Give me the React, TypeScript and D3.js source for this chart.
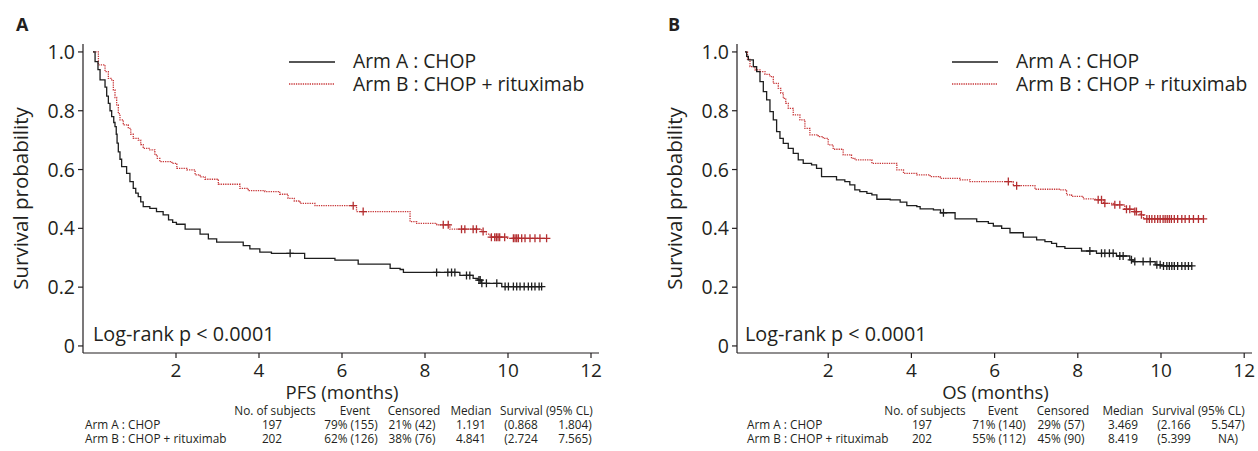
import React from 'react';
import * as d3 from 'd3';

type Pt = [number, number];

// ---- Data (time in months, survival probability) ----
const pfsArmA: Pt[] = [
  [0, 1.0], [0.05, 0.967], [0.12, 0.94], [0.17, 0.905], [0.29, 0.88], [0.33, 0.85], [0.37, 0.825], [0.41, 0.8],
  [0.45, 0.78], [0.5, 0.76], [0.53, 0.746], [0.56, 0.72], [0.58, 0.69], [0.61, 0.66], [0.65, 0.635], [0.69, 0.61],
  [0.81, 0.587], [0.89, 0.559], [0.97, 0.536], [1.03, 0.52], [1.09, 0.508], [1.15, 0.49], [1.21, 0.474], [1.37, 0.468],
  [1.53, 0.457], [1.69, 0.446], [1.82, 0.429], [1.92, 0.42], [2.01, 0.414], [2.22, 0.397], [2.58, 0.38], [2.78, 0.364],
  [2.98, 0.353], [3.62, 0.341], [3.78, 0.33], [4.02, 0.319], [4.3, 0.315], [5.1, 0.298], [5.83, 0.292], [6.39, 0.278],
  [7.16, 0.264], [7.4, 0.26], [7.48, 0.25], [8.84, 0.24], [9.16, 0.23], [9.28, 0.224], [9.36, 0.213], [9.85, 0.202],
];
const pfsArmACensor: number[] = [
  4.75, 8.28, 8.55, 8.64, 8.72, 9.0, 9.08, 9.3, 9.33, 9.37, 9.48, 9.73,
  9.93, 10.01, 10.13, 10.21, 10.29, 10.39, 10.49, 10.57, 10.65, 10.75, 10.81,
];
const pfsArmB: Pt[] = [
  [0, 1.0], [0.13, 0.956], [0.29, 0.933], [0.37, 0.91], [0.45, 0.905], [0.49, 0.871], [0.53, 0.845], [0.57, 0.82],
  [0.61, 0.79], [0.65, 0.769], [0.73, 0.752], [0.85, 0.74], [0.91, 0.72], [0.97, 0.706], [1.09, 0.7], [1.15, 0.685],
  [1.21, 0.672], [1.37, 0.667], [1.49, 0.65], [1.55, 0.638], [1.61, 0.627], [1.9, 0.621], [2.02, 0.604], [2.26, 0.599],
  [2.46, 0.582], [2.58, 0.575], [2.7, 0.567], [3.02, 0.55], [3.54, 0.536], [3.74, 0.528], [4.14, 0.525], [4.5, 0.516],
  [4.7, 0.502], [4.85, 0.493], [4.99, 0.485], [5.35, 0.477], [6.35, 0.457], [7.64, 0.423], [7.8, 0.417], [8.28, 0.412],
  [8.6, 0.397], [9.36, 0.389], [9.48, 0.38], [9.57, 0.37], [9.97, 0.366],
];
const pfsArmBCensor: number[] = [
  6.27, 6.51, 8.44, 8.56, 8.88, 8.96, 9.16, 9.24, 9.4, 9.6, 9.68, 9.72, 9.76, 9.8, 9.92,
  10.13, 10.17, 10.21, 10.25, 10.33, 10.41, 10.53, 10.65, 10.77, 10.93,
];
const osArmA: Pt[] = [
  [0, 1.0], [0.04, 0.985], [0.08, 0.973], [0.2, 0.95], [0.28, 0.933], [0.36, 0.899], [0.44, 0.865], [0.52, 0.837],
  [0.6, 0.797], [0.68, 0.769], [0.76, 0.729], [0.84, 0.706], [0.92, 0.689], [1.04, 0.672], [1.16, 0.655], [1.28, 0.633],
  [1.4, 0.621], [1.6, 0.616], [1.72, 0.604], [1.84, 0.576], [2.2, 0.565], [2.4, 0.559], [2.52, 0.548], [2.64, 0.531],
  [2.76, 0.525], [2.93, 0.519], [3.05, 0.514], [3.17, 0.499], [3.49, 0.497], [3.73, 0.489], [3.89, 0.477], [4.13, 0.474],
  [4.21, 0.466], [4.53, 0.463], [4.7, 0.453], [5.05, 0.432], [5.57, 0.423], [5.85, 0.417], [5.97, 0.408], [6.17, 0.4],
  [6.37, 0.385], [6.69, 0.37], [7.01, 0.361], [7.21, 0.355], [7.37, 0.349], [7.49, 0.338], [7.69, 0.332], [8.09, 0.323],
  [8.45, 0.315], [8.93, 0.306], [9.25, 0.293], [9.33, 0.287], [9.86, 0.276], [10.0, 0.272],
];
const osArmACensor: number[] = [
  4.77, 8.29, 8.57, 8.65, 8.76, 8.85, 9.01, 9.09, 9.29, 9.37, 9.57, 9.74,
  9.9, 9.98, 10.06, 10.14, 10.2, 10.26, 10.32, 10.4, 10.5, 10.58, 10.66, 10.74,
];
const osArmB: Pt[] = [
  [0, 1.0], [0.06, 0.975], [0.12, 0.95], [0.24, 0.939], [0.36, 0.933], [0.48, 0.924], [0.6, 0.916], [0.68, 0.893],
  [0.8, 0.876], [0.86, 0.86], [0.92, 0.842], [0.98, 0.825], [1.04, 0.808], [1.16, 0.786], [1.32, 0.769], [1.44, 0.74],
  [1.56, 0.718], [1.76, 0.712], [1.88, 0.706], [2.0, 0.684], [2.12, 0.669], [2.36, 0.65], [2.56, 0.638], [2.64, 0.633],
  [3.05, 0.621], [3.65, 0.599], [3.81, 0.587], [4.13, 0.582], [4.45, 0.576], [4.69, 0.57], [5.17, 0.565], [5.41, 0.559],
  [6.45, 0.545], [6.97, 0.533], [7.57, 0.531], [7.73, 0.514], [7.85, 0.509], [8.13, 0.5], [8.41, 0.497], [8.62, 0.485],
  [8.86, 0.48], [9.13, 0.465], [9.34, 0.457], [9.5, 0.446], [9.58, 0.432],
];
const osArmBCensor: number[] = [
  6.33, 6.53, 8.49, 8.57, 8.65, 8.89, 9.01, 9.17, 9.25, 9.37, 9.41, 9.53, 9.66, 9.72, 9.78, 9.85, 9.92, 9.98,
  10.05, 10.1, 10.15, 10.2, 10.25, 10.32, 10.4, 10.5, 10.58, 10.68, 10.78, 10.9, 11.02,
];

const yTicks = [0, 0.2, 0.4, 0.6, 0.8, 1.0];
const yTickLabels = ['0', '0.2', '0.4', '0.6', '0.8', '1.0'];
const xTicks = [2, 4, 6, 8, 10, 12];
const armLabels = ['Arm A : CHOP', 'Arm B : CHOP + rituximab'];
const tableHeaders = ['No. of subjects', 'Event', 'Censored', 'Median', 'Survival (95% CL)'];
const pfsTable = [
  ['197', '79% (155)', '21% (42)', '1.191', '(0.868', '1.804)'],
  ['202', '62% (126)', '38% (76)', '4.841', '(2.724', '7.565)'],
];
const osTable = [
  ['197', '71% (140)', '29% (57)', '3.469', '(2.166', '5.547)'],
  ['202', '55% (112)', '45% (90)', '8.419', '(5.399', 'NA)'],
];

const FONT = "'Open Sans', 'Noto Sans', sans-serif";
const TEXT = '#231f20';
const BLACK = '#1e1e1e';
const RED = '#c8383a';
const RED_MARK = '#b32e30';

function survAt(curve: Pt[], t: number): number {
  let s = curve[0][1];
  for (const [ti, si] of curve) {
    if (ti <= t) s = si;
    else break;
  }
  return s;
}

interface PanelProps {
  letter: string;
  letterX: number;
  axisX: number;
  rightX: number;
  t0X: number;
  pxPerMonth: number;
  xLabel: string;
  armA: Pt[];
  armACens: number[];
  armB: Pt[];
  armBCens: number[];
  legendX: number;
  table: string[][];
  rowLabelX: number;
  colX: number[];
  headX: number[];
}

function Panel(p: PanelProps) {
  const axisBottom = 353;
  const axisTop = 44;
  const domLeft = -(p.t0X - p.axisX) / p.pxPerMonth;
  const domRight = (p.rightX - p.t0X) / p.pxPerMonth;
  const x = d3.scaleLinear().domain([domLeft, domRight]).range([p.axisX, p.rightX]);
  const y = d3.scaleLinear().domain([-0.024, 1.027]).range([axisBottom, axisTop]);

  const line = d3
    .line<Pt>()
    .x((d) => x(d[0]))
    .y((d) => y(d[1]))
    .curve(d3.curveStepAfter);

  const extend = (c: Pt[], cens: number[]): Pt[] => {
    const end = Math.max(c[c.length - 1][0], ...cens);
    return [...c, [end, c[c.length - 1][1]]];
  };

  const plus = (cx: number, cy: number, color: string, key: string) => (
    <path key={key} d={`M${cx - 3.8},${cy}H${cx + 3.8}M${cx},${cy - 4}V${cy + 4}`} stroke={color} strokeWidth={1.3} fill="none" />
  );

  const rowY = [429, 443];
  const headY = 415;
  const TFS = 11.8;

  return (
    <g>
      <text x={p.letterX} y={31} fontFamily={FONT} fontWeight="bold" fontSize={18} fill={TEXT}>
        {p.letter}
      </text>
      {/* y axis */}
      <line x1={p.axisX} x2={p.axisX} y1={axisTop} y2={axisBottom} stroke={TEXT} strokeWidth={1.2} />
      {yTicks.map((v, i) => (
        <g key={'y' + i}>
          <line x1={p.axisX - 5} x2={p.axisX} y1={y(v)} y2={y(v)} stroke={TEXT} strokeWidth={1.2} />
          <text x={p.axisX - 8} y={y(v) + 7} textAnchor="end" fontFamily={FONT} fontSize={19.5} fill={TEXT}>
            {yTickLabels[i]}
          </text>
        </g>
      ))}
      {/* x axis */}
      <line x1={p.axisX} x2={p.rightX} y1={axisBottom} y2={axisBottom} stroke={TEXT} strokeWidth={1.2} />
      {xTicks.map((v) => (
        <g key={'x' + v}>
          <line x1={x(v)} x2={x(v)} y1={axisBottom} y2={axisBottom + 5} stroke={TEXT} strokeWidth={1.2} />
          <text x={x(v)} y={377} textAnchor="middle" fontFamily={FONT} fontSize={19} fill={TEXT}>
            {v}
          </text>
        </g>
      ))}
      <text x={(p.axisX + p.rightX) / 2 + 1} y={399} textAnchor="middle" fontFamily={FONT} fontSize={18.5} fill={TEXT}>
        {p.xLabel}
      </text>
      <text
        transform={`translate(${p.axisX - 55},${(axisTop + axisBottom) / 2}) rotate(-90)`}
        textAnchor="middle"
        fontFamily={FONT}
        fontSize={20.5}
        fill={TEXT}
      >
        Survival probability
      </text>

      {/* curves */}
      <path d={line(extend(p.armB, p.armBCens)) || ''} fill="none" stroke={RED} strokeWidth={1.3} strokeDasharray="1.3,1" />
      <path d={line(extend(p.armA, p.armACens)) || ''} fill="none" stroke={BLACK} strokeWidth={1.3} />
      {p.armBCens.map((t, i) => plus(x(t), y(survAt(p.armB, t)), RED_MARK, 'cb' + i))}
      {p.armACens.map((t, i) => plus(x(t), y(survAt(p.armA, t)), BLACK, 'ca' + i))}

      {/* legend */}
      <line x1={p.legendX} x2={p.legendX + 46} y1={62} y2={62} stroke={BLACK} strokeWidth={1.3} />
      <line x1={p.legendX} x2={p.legendX + 46} y1={84} y2={84} stroke={RED} strokeWidth={1.3} strokeDasharray="1.3,1" />
      <text x={p.legendX + 64} y={68} fontFamily={FONT} fontSize={19.3} fill={TEXT}>
        {armLabels[0]}
      </text>
      <text x={p.legendX + 64} y={91} fontFamily={FONT} fontSize={19.3} fill={TEXT}>
        {armLabels[1]}
      </text>

      <text x={x(0)} y={341} fontFamily={FONT} fontSize={19.8} fill={TEXT}>
        Log-rank p &lt; 0.0001
      </text>

      {/* table */}
      {tableHeaders.slice(0, 4).map((h, i) => (
        <text key={'h' + i} x={p.headX[i]} y={headY} textAnchor="middle" fontFamily={FONT} fontSize={TFS} fill={TEXT}>
          {h}
        </text>
      ))}
      <text x={p.headX[4]} y={headY} fontFamily={FONT} fontSize={TFS} fill={TEXT}>
        {tableHeaders[4]}
      </text>
      {p.table.map((row, r) => (
        <g key={'r' + r}>
          <text x={p.rowLabelX} y={rowY[r]} fontFamily={FONT} fontSize={TFS} fill={TEXT}>
            {armLabels[r]}
          </text>
          {row.map((cell, c) => (
            <text key={c} x={p.colX[c]} y={rowY[r]} textAnchor="middle" fontFamily={FONT} fontSize={TFS} fill={TEXT}>
              {cell}
            </text>
          ))}
        </g>
      ))}
    </g>
  );
}

export default function App() {
  return (
    <svg
      width={1258}
      height={451}
      style={{ position: 'absolute', left: 0, top: 0, background: '#fff' }}
      xmlns="http://www.w3.org/2000/svg"
    >
      <rect x={0} y={0} width={1258} height={451} fill="#fff" />
      <Panel
        letter="A"
        letterX={16}
        axisX={83}
        rightX={599}
        t0X={93}
        pxPerMonth={41.5}
        xLabel="PFS (months)"
        armA={pfsArmA}
        armACens={pfsArmACensor}
        armB={pfsArmB}
        armBCens={pfsArmBCensor}
        legendX={289}
        table={pfsTable}
        rowLabelX={85}
        colX={[272, 351, 412, 471, 521, 575]}
        headX={[275, 355, 414, 471, 500]}
      />
      <Panel
        letter="B"
        letterX={668}
        axisX={737}
        rightX={1252}
        t0X={745}
        pxPerMonth={41.6}
        xLabel="OS (months)"
        armA={osArmA}
        armACens={osArmACensor}
        armB={osArmB}
        armBCens={osArmBCensor}
        legendX={952}
        table={osTable}
        rowLabelX={747}
        colX={[922, 999, 1061, 1123, 1174, 1228]}
        headX={[925, 1003, 1063, 1123, 1152]}
      />
    </svg>
  );
}
